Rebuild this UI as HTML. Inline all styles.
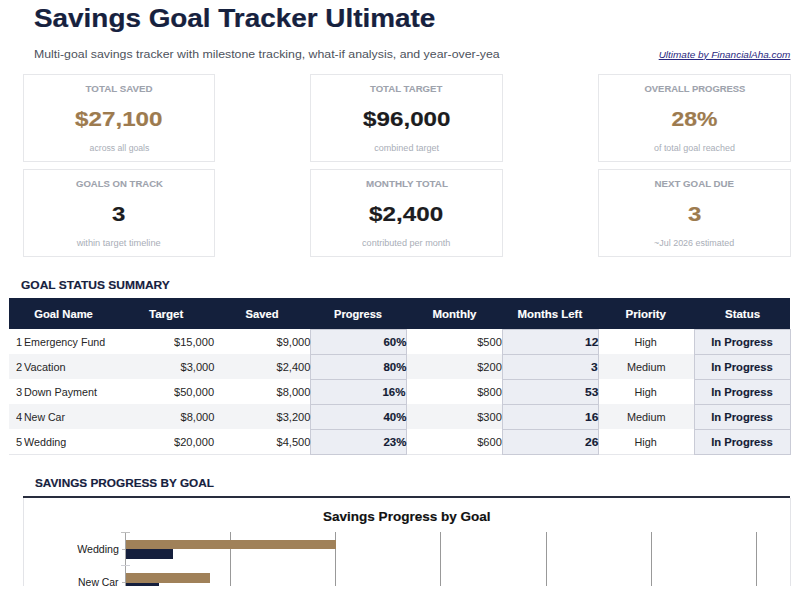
<!DOCTYPE html>
<html><head><meta charset="utf-8">
<style>
*{margin:0;padding:0;box-sizing:border-box}
html,body{width:800px;height:595px;overflow:hidden;background:#fff}
body{position:relative;font-family:"Liberation Sans",sans-serif;color:#222}
.t{position:absolute;white-space:nowrap;line-height:1}
.card{position:absolute;border:1px solid #e6e7ea;background:#fff}
</style></head><body>
<div class="card" style="left:23px;top:74px;width:192px;height:88px"></div>
<div class="card" style="left:310px;top:74px;width:193px;height:88px"></div>
<div class="card" style="left:598px;top:74px;width:193px;height:88px"></div>
<div class="card" style="left:23px;top:169px;width:192px;height:88px"></div>
<div class="card" style="left:310px;top:169px;width:193px;height:88px"></div>
<div class="card" style="left:598px;top:169px;width:193px;height:88px"></div>
<div style="position:absolute;left:9px;top:298px;width:781px;height:31px;background:#14203c"></div>
<div style="position:absolute;left:9px;top:329px;width:781px;height:25px;background:#fff"></div>
<div style="position:absolute;left:9px;top:354px;width:781px;height:25px;background:#f3f4f6"></div>
<div style="position:absolute;left:9px;top:379px;width:781px;height:25px;background:#fff"></div>
<div style="position:absolute;left:9px;top:404px;width:781px;height:25px;background:#f3f4f6"></div>
<div style="position:absolute;left:9px;top:429px;width:781px;height:25px;background:#fff"></div>
<div style="position:absolute;left:9px;top:454px;width:781px;height:1px;background:#e6e7eb"></div>
<div style="position:absolute;left:310px;top:329px;width:97px;height:26px;background:#eceef4;border:1px solid #c9cbd6"></div>
<div style="position:absolute;left:310px;top:354px;width:97px;height:26px;background:#eceef4;border:1px solid #c9cbd6"></div>
<div style="position:absolute;left:310px;top:379px;width:97px;height:26px;background:#eceef4;border:1px solid #c9cbd6"></div>
<div style="position:absolute;left:310px;top:404px;width:97px;height:26px;background:#eceef4;border:1px solid #c9cbd6"></div>
<div style="position:absolute;left:310px;top:429px;width:97px;height:26px;background:#eceef4;border:1px solid #c9cbd6"></div>
<div style="position:absolute;left:502px;top:329px;width:97px;height:26px;background:#eceef4;border:1px solid #c9cbd6"></div>
<div style="position:absolute;left:502px;top:354px;width:97px;height:26px;background:#eceef4;border:1px solid #c9cbd6"></div>
<div style="position:absolute;left:502px;top:379px;width:97px;height:26px;background:#eceef4;border:1px solid #c9cbd6"></div>
<div style="position:absolute;left:502px;top:404px;width:97px;height:26px;background:#eceef4;border:1px solid #c9cbd6"></div>
<div style="position:absolute;left:502px;top:429px;width:97px;height:26px;background:#eceef4;border:1px solid #c9cbd6"></div>
<div style="position:absolute;left:694px;top:329px;width:97px;height:26px;background:#eceef4;border:1px solid #c9cbd6"></div>
<div style="position:absolute;left:694px;top:354px;width:97px;height:26px;background:#eceef4;border:1px solid #c9cbd6"></div>
<div style="position:absolute;left:694px;top:379px;width:97px;height:26px;background:#eceef4;border:1px solid #c9cbd6"></div>
<div style="position:absolute;left:694px;top:404px;width:97px;height:26px;background:#eceef4;border:1px solid #c9cbd6"></div>
<div style="position:absolute;left:694px;top:429px;width:97px;height:26px;background:#eceef4;border:1px solid #c9cbd6"></div>
<div style="position:absolute;left:23px;top:496px;width:767px;height:2px;background:#282d3e"></div>
<div style="position:absolute;left:23px;top:498px;width:768px;height:88px;border-left:1px solid #e3e4e8;border-right:1px solid #e3e4e8"></div>
<div style="position:absolute;left:0;top:532px;width:800px;height:54px;overflow:hidden"><div style="position:absolute;left:230px;top:0;width:1px;height:54px;background:#999"></div><div style="position:absolute;left:335px;top:0;width:1px;height:54px;background:#999"></div><div style="position:absolute;left:440px;top:0;width:1px;height:54px;background:#999"></div><div style="position:absolute;left:546px;top:0;width:1px;height:54px;background:#999"></div><div style="position:absolute;left:651px;top:0;width:1px;height:54px;background:#999"></div><div style="position:absolute;left:756px;top:0;width:1px;height:54px;background:#999"></div><div style="position:absolute;left:125px;top:0;width:1px;height:54px;background:#a4a4a4"></div><div style="position:absolute;left:121px;top:0;width:9px;height:1px;background:#c0c0c0"></div><div style="position:absolute;left:121px;top:33px;width:9px;height:1px;background:#cfd0d6"></div><div style="position:absolute;left:122px;top:17px;width:3px;height:1px;background:#b8b8b8"></div><div style="position:absolute;left:122px;top:50px;width:3px;height:1px;background:#b8b8b8"></div><div style="position:absolute;left:126px;top:8px;width:210px;height:9px;background:#a08159"></div><div style="position:absolute;left:126px;top:17px;width:47px;height:10px;background:#151f3d"></div><div style="position:absolute;left:126px;top:41px;width:84px;height:10px;background:#a08159"></div><div style="position:absolute;left:126px;top:51px;width:33px;height:10px;background:#151f3d"></div></div>
<div class="t" style="left:34.20px;width:700px;text-align:left;top:6.39px;font-family:'Liberation Sans';font-size:25.07px;font-weight:bold;color:#16213e"><span style="display:inline-block;transform:scaleX(1.1123);transform-origin:left;;-webkit-text-stroke:0.225px currentColor">Savings Goal Tracker Ultimate</span></div>
<div style="position:absolute;left:0px;top:40px;width:500px;height:30px;overflow:hidden"><div style="position:absolute;left:0px;top:-40px;width:800px;height:595px"><div class="t" style="left:34.00px;width:700px;text-align:left;top:49.39px;font-family:'Liberation Sans';font-size:11.45px;color:#4d525c"><span style="display:inline-block;transform:scaleX(1.0772);transform-origin:left;">Multi-goal savings tracker with milestone tracking, what-if analysis, and year-over-year comparison</span></div></div></div>
<div class="t" style="left:190.00px;width:600px;text-align:right;top:50.62px;font-family:'Liberation Sans';font-size:9.33px;font-style:italic;color:#2a2880"><span style="display:inline-block;transform:scaleX(1.0675);transform-origin:right;text-decoration:underline">Ultimate by FinancialAha.com</span></div>
<div class="t" style="left:-181.00px;width:600px;text-align:center;top:85.45px;font-family:'Liberation Sans';font-size:9.33px;font-weight:bold;color:#9ea3ad"><span style="display:inline-block;transform:scaleX(1.0444);transform-origin:center;;-webkit-text-stroke:0.075px currentColor">TOTAL SAVED</span></div>
<div class="t" style="left:-180.80px;width:600px;text-align:center;top:109.40px;font-family:'Liberation Sans';font-size:20.35px;font-weight:bold;color:#9d7b4f"><span style="display:inline-block;transform:scaleX(1.1884);transform-origin:center;;-webkit-text-stroke:0.175px currentColor">$27,100</span></div>
<div class="t" style="left:-181.00px;width:600px;text-align:center;top:144.69px;font-family:'Liberation Sans';font-size:8.27px;color:#a9aeb7"><span style="display:inline-block;transform:scaleX(1.0496);transform-origin:center;">across all goals</span></div>
<div class="t" style="left:106.50px;width:600px;text-align:center;top:85.45px;font-family:'Liberation Sans';font-size:9.33px;font-weight:bold;color:#9ea3ad"><span style="display:inline-block;transform:scaleX(1.0298);transform-origin:center;;-webkit-text-stroke:0.075px currentColor">TOTAL TARGET</span></div>
<div class="t" style="left:106.70px;width:600px;text-align:center;top:109.40px;font-family:'Liberation Sans';font-size:20.35px;font-weight:bold;color:#1c1c20"><span style="display:inline-block;transform:scaleX(1.1884);transform-origin:center;;-webkit-text-stroke:0.175px currentColor">$96,000</span></div>
<div class="t" style="left:106.50px;width:600px;text-align:center;top:144.69px;font-family:'Liberation Sans';font-size:8.27px;color:#a9aeb7"><span style="display:inline-block;transform:scaleX(1.0904);transform-origin:center;">combined target</span></div>
<div class="t" style="left:394.50px;width:600px;text-align:center;top:85.45px;font-family:'Liberation Sans';font-size:9.33px;font-weight:bold;color:#9ea3ad"><span style="display:inline-block;transform:scaleX(1.0103);transform-origin:center;;-webkit-text-stroke:0.075px currentColor">OVERALL PROGRESS</span></div>
<div class="t" style="left:394.50px;width:600px;text-align:center;top:109.40px;font-family:'Liberation Sans';font-size:20.35px;font-weight:bold;color:#9d7b4f"><span style="display:inline-block;transform:scaleX(1.1282);transform-origin:center;;-webkit-text-stroke:0.175px currentColor">28%</span></div>
<div class="t" style="left:394.50px;width:600px;text-align:center;top:144.69px;font-family:'Liberation Sans';font-size:8.27px;color:#a9aeb7"><span style="display:inline-block;transform:scaleX(1.0818);transform-origin:center;">of total goal reached</span></div>
<div class="t" style="left:-181.00px;width:600px;text-align:center;top:180.45px;font-family:'Liberation Sans';font-size:9.33px;font-weight:bold;color:#9ea3ad"><span style="display:inline-block;transform:scaleX(1.0241);transform-origin:center;;-webkit-text-stroke:0.075px currentColor">GOALS ON TRACK</span></div>
<div class="t" style="left:-181.00px;width:600px;text-align:center;top:204.40px;font-family:'Liberation Sans';font-size:20.35px;font-weight:bold;color:#1c1c20"><span style="display:inline-block;transform:scaleX(1.1793);transform-origin:center;;-webkit-text-stroke:0.175px currentColor">3</span></div>
<div class="t" style="left:-181.00px;width:600px;text-align:center;top:239.69px;font-family:'Liberation Sans';font-size:8.27px;color:#a9aeb7"><span style="display:inline-block;transform:scaleX(1.1149);transform-origin:center;">within target timeline</span></div>
<div class="t" style="left:106.50px;width:600px;text-align:center;top:180.45px;font-family:'Liberation Sans';font-size:9.33px;font-weight:bold;color:#9ea3ad"><span style="display:inline-block;transform:scaleX(1.0503);transform-origin:center;;-webkit-text-stroke:0.075px currentColor">MONTHLY TOTAL</span></div>
<div class="t" style="left:106.50px;width:600px;text-align:center;top:204.40px;font-family:'Liberation Sans';font-size:20.35px;font-weight:bold;color:#1c1c20"><span style="display:inline-block;transform:scaleX(1.1898);transform-origin:center;;-webkit-text-stroke:0.175px currentColor">$2,400</span></div>
<div class="t" style="left:106.50px;width:600px;text-align:center;top:239.69px;font-family:'Liberation Sans';font-size:8.27px;color:#a9aeb7"><span style="display:inline-block;transform:scaleX(1.0985);transform-origin:center;">contributed per month</span></div>
<div class="t" style="left:394.70px;width:600px;text-align:center;top:180.45px;font-family:'Liberation Sans';font-size:9.33px;font-weight:bold;color:#9ea3ad"><span style="display:inline-block;transform:scaleX(1.0402);transform-origin:center;;-webkit-text-stroke:0.075px currentColor">NEXT GOAL DUE</span></div>
<div class="t" style="left:394.30px;width:600px;text-align:center;top:204.40px;font-family:'Liberation Sans';font-size:20.35px;font-weight:bold;color:#9d7b4f"><span style="display:inline-block;transform:scaleX(1.1793);transform-origin:center;;-webkit-text-stroke:0.175px currentColor">3</span></div>
<div class="t" style="left:394.50px;width:600px;text-align:center;top:239.69px;font-family:'Liberation Sans';font-size:8.27px;color:#a9aeb7"><span style="display:inline-block;transform:scaleX(1.0779);transform-origin:center;">~Jul 2026 estimated</span></div>
<div class="t" style="left:21.00px;width:700px;text-align:left;top:280.28px;font-family:'Liberation Sans';font-size:11.5px;font-weight:bold;color:#16213e"><span style="display:inline-block;transform:scaleX(1.0429);transform-origin:left;;-webkit-text-stroke:0.15px currentColor">GOAL STATUS SUMMARY</span></div>
<div class="t" style="left:34.50px;width:700px;text-align:left;top:478.48px;font-family:'Liberation Sans';font-size:11.5px;font-weight:bold;color:#16213e"><span style="display:inline-block;transform:scaleX(1.0246);transform-origin:left;;-webkit-text-stroke:0.15px currentColor">SAVINGS PROGRESS BY GOAL</span></div>
<div class="t" style="left:-236.50px;width:600px;text-align:center;top:309.90px;font-family:'Liberation Sans';font-size:10.18px;font-weight:bold;color:#fff"><span style="display:inline-block;transform:scaleX(1.1023);transform-origin:center;;-webkit-text-stroke:0.125px currentColor">Goal Name</span></div>
<div class="t" style="left:-134.20px;width:600px;text-align:center;top:309.90px;font-family:'Liberation Sans';font-size:10.18px;font-weight:bold;color:#fff"><span style="display:inline-block;transform:scaleX(1.1365);transform-origin:center;;-webkit-text-stroke:0.125px currentColor">Target</span></div>
<div class="t" style="left:-37.80px;width:600px;text-align:center;top:309.90px;font-family:'Liberation Sans';font-size:10.18px;font-weight:bold;color:#fff"><span style="display:inline-block;transform:scaleX(1.1011);transform-origin:center;;-webkit-text-stroke:0.125px currentColor">Saved</span></div>
<div class="t" style="left:58.00px;width:600px;text-align:center;top:309.90px;font-family:'Liberation Sans';font-size:10.18px;font-weight:bold;color:#fff"><span style="display:inline-block;transform:scaleX(1.0857);transform-origin:center;;-webkit-text-stroke:0.125px currentColor">Progress</span></div>
<div class="t" style="left:154.00px;width:600px;text-align:center;top:309.90px;font-family:'Liberation Sans';font-size:10.18px;font-weight:bold;color:#fff"><span style="display:inline-block;transform:scaleX(1.1271);transform-origin:center;;-webkit-text-stroke:0.125px currentColor">Monthly</span></div>
<div class="t" style="left:250.20px;width:600px;text-align:center;top:309.90px;font-family:'Liberation Sans';font-size:10.18px;font-weight:bold;color:#fff"><span style="display:inline-block;transform:scaleX(1.1247);transform-origin:center;;-webkit-text-stroke:0.125px currentColor">Months Left</span></div>
<div class="t" style="left:346.20px;width:600px;text-align:center;top:309.90px;font-family:'Liberation Sans';font-size:10.18px;font-weight:bold;color:#fff"><span style="display:inline-block;transform:scaleX(1.1373);transform-origin:center;;-webkit-text-stroke:0.125px currentColor">Priority</span></div>
<div class="t" style="left:442.20px;width:600px;text-align:center;top:309.90px;font-family:'Liberation Sans';font-size:10.18px;font-weight:bold;color:#fff"><span style="display:inline-block;transform:scaleX(1.1291);transform-origin:center;;-webkit-text-stroke:0.125px currentColor">Status</span></div>
<div class="t" style="left:16.20px;width:700px;text-align:left;top:337.71px;font-family:'Liberation Sans';font-size:10.28px;color:#262626"><span style="display:inline-block;transform:scaleX(1.0792);transform-origin:left;">1</span></div>
<div class="t" style="left:24.00px;width:700px;text-align:left;top:337.71px;font-family:'Liberation Sans';font-size:10.28px;color:#262626"><span style="display:inline-block;transform:scaleX(1.0388);transform-origin:left;">Emergency Fund</span></div>
<div class="t" style="left:-386.00px;width:600px;text-align:right;top:337.71px;font-family:'Liberation Sans';font-size:10.28px;color:#262626"><span style="display:inline-block;transform:scaleX(1.0796);transform-origin:right;">$15,000</span></div>
<div class="t" style="left:-290.00px;width:600px;text-align:right;top:337.71px;font-family:'Liberation Sans';font-size:10.28px;color:#262626"><span style="display:inline-block;transform:scaleX(1.0796);transform-origin:right;">$9,000</span></div>
<div class="t" style="left:-194.00px;width:600px;text-align:right;top:337.80px;font-family:'Liberation Sans';font-size:10.18px;font-weight:bold;color:#141c36"><span style="display:inline-block;transform:scaleX(1.1282);transform-origin:right;;-webkit-text-stroke:0.125px currentColor">60%</span></div>
<div class="t" style="left:-98.00px;width:600px;text-align:right;top:337.71px;font-family:'Liberation Sans';font-size:10.28px;color:#262626"><span style="display:inline-block;transform:scaleX(1.0793);transform-origin:right;">$500</span></div>
<div class="t" style="left:-2.00px;width:600px;text-align:right;top:337.80px;font-family:'Liberation Sans';font-size:10.18px;font-weight:bold;color:#141c36"><span style="display:inline-block;transform:scaleX(1.1793);transform-origin:right;;-webkit-text-stroke:0.125px currentColor">12</span></div>
<div class="t" style="left:346.00px;width:600px;text-align:center;top:337.71px;font-family:'Liberation Sans';font-size:10.28px;color:#262626"><span style="display:inline-block;transform:scaleX(1.0540);transform-origin:center;">High</span></div>
<div class="t" style="left:442.00px;width:600px;text-align:center;top:337.80px;font-family:'Liberation Sans';font-size:10.18px;font-weight:bold;color:#141c36"><span style="display:inline-block;transform:scaleX(1.1011);transform-origin:center;;-webkit-text-stroke:0.125px currentColor">In Progress</span></div>
<div class="t" style="left:16.00px;width:700px;text-align:left;top:362.71px;font-family:'Liberation Sans';font-size:10.28px;color:#262626"><span style="display:inline-block;transform:scaleX(1.0792);transform-origin:left;">2</span></div>
<div class="t" style="left:24.00px;width:700px;text-align:left;top:362.71px;font-family:'Liberation Sans';font-size:10.28px;color:#262626"><span style="display:inline-block;transform:scaleX(1.0626);transform-origin:left;">Vacation</span></div>
<div class="t" style="left:-386.00px;width:600px;text-align:right;top:362.71px;font-family:'Liberation Sans';font-size:10.28px;color:#262626"><span style="display:inline-block;transform:scaleX(1.0796);transform-origin:right;">$3,000</span></div>
<div class="t" style="left:-290.00px;width:600px;text-align:right;top:362.71px;font-family:'Liberation Sans';font-size:10.28px;color:#262626"><span style="display:inline-block;transform:scaleX(1.0796);transform-origin:right;">$2,400</span></div>
<div class="t" style="left:-194.00px;width:600px;text-align:right;top:362.80px;font-family:'Liberation Sans';font-size:10.18px;font-weight:bold;color:#141c36"><span style="display:inline-block;transform:scaleX(1.1282);transform-origin:right;;-webkit-text-stroke:0.125px currentColor">80%</span></div>
<div class="t" style="left:-98.00px;width:600px;text-align:right;top:362.71px;font-family:'Liberation Sans';font-size:10.28px;color:#262626"><span style="display:inline-block;transform:scaleX(1.0793);transform-origin:right;">$200</span></div>
<div class="t" style="left:-2.00px;width:600px;text-align:right;top:362.80px;font-family:'Liberation Sans';font-size:10.18px;font-weight:bold;color:#141c36"><span style="display:inline-block;transform:scaleX(1.1791);transform-origin:right;;-webkit-text-stroke:0.125px currentColor">3</span></div>
<div class="t" style="left:346.00px;width:600px;text-align:center;top:362.71px;font-family:'Liberation Sans';font-size:10.28px;color:#262626"><span style="display:inline-block;transform:scaleX(1.0612);transform-origin:center;">Medium</span></div>
<div class="t" style="left:442.00px;width:600px;text-align:center;top:362.80px;font-family:'Liberation Sans';font-size:10.18px;font-weight:bold;color:#141c36"><span style="display:inline-block;transform:scaleX(1.1011);transform-origin:center;;-webkit-text-stroke:0.125px currentColor">In Progress</span></div>
<div class="t" style="left:16.00px;width:700px;text-align:left;top:387.71px;font-family:'Liberation Sans';font-size:10.28px;color:#262626"><span style="display:inline-block;transform:scaleX(1.0792);transform-origin:left;">3</span></div>
<div class="t" style="left:23.80px;width:700px;text-align:left;top:387.71px;font-family:'Liberation Sans';font-size:10.28px;color:#262626"><span style="display:inline-block;transform:scaleX(1.0480);transform-origin:left;">Down Payment</span></div>
<div class="t" style="left:-386.00px;width:600px;text-align:right;top:387.71px;font-family:'Liberation Sans';font-size:10.28px;color:#262626"><span style="display:inline-block;transform:scaleX(1.0796);transform-origin:right;">$50,000</span></div>
<div class="t" style="left:-290.00px;width:600px;text-align:right;top:387.71px;font-family:'Liberation Sans';font-size:10.28px;color:#262626"><span style="display:inline-block;transform:scaleX(1.0796);transform-origin:right;">$8,000</span></div>
<div class="t" style="left:-194.20px;width:600px;text-align:right;top:387.80px;font-family:'Liberation Sans';font-size:10.18px;font-weight:bold;color:#141c36"><span style="display:inline-block;transform:scaleX(1.1282);transform-origin:right;;-webkit-text-stroke:0.125px currentColor">16%</span></div>
<div class="t" style="left:-98.00px;width:600px;text-align:right;top:387.71px;font-family:'Liberation Sans';font-size:10.28px;color:#262626"><span style="display:inline-block;transform:scaleX(1.0793);transform-origin:right;">$800</span></div>
<div class="t" style="left:-2.00px;width:600px;text-align:right;top:387.80px;font-family:'Liberation Sans';font-size:10.18px;font-weight:bold;color:#141c36"><span style="display:inline-block;transform:scaleX(1.1793);transform-origin:right;;-webkit-text-stroke:0.125px currentColor">53</span></div>
<div class="t" style="left:346.00px;width:600px;text-align:center;top:387.71px;font-family:'Liberation Sans';font-size:10.28px;color:#262626"><span style="display:inline-block;transform:scaleX(1.0540);transform-origin:center;">High</span></div>
<div class="t" style="left:442.00px;width:600px;text-align:center;top:387.80px;font-family:'Liberation Sans';font-size:10.18px;font-weight:bold;color:#141c36"><span style="display:inline-block;transform:scaleX(1.1011);transform-origin:center;;-webkit-text-stroke:0.125px currentColor">In Progress</span></div>
<div class="t" style="left:16.00px;width:700px;text-align:left;top:412.71px;font-family:'Liberation Sans';font-size:10.28px;color:#262626"><span style="display:inline-block;transform:scaleX(1.0792);transform-origin:left;">4</span></div>
<div class="t" style="left:24.00px;width:700px;text-align:left;top:412.71px;font-family:'Liberation Sans';font-size:10.28px;color:#262626"><span style="display:inline-block;transform:scaleX(1.0243);transform-origin:left;">New Car</span></div>
<div class="t" style="left:-386.00px;width:600px;text-align:right;top:412.71px;font-family:'Liberation Sans';font-size:10.28px;color:#262626"><span style="display:inline-block;transform:scaleX(1.0796);transform-origin:right;">$8,000</span></div>
<div class="t" style="left:-290.00px;width:600px;text-align:right;top:412.71px;font-family:'Liberation Sans';font-size:10.28px;color:#262626"><span style="display:inline-block;transform:scaleX(1.0796);transform-origin:right;">$3,200</span></div>
<div class="t" style="left:-194.00px;width:600px;text-align:right;top:412.80px;font-family:'Liberation Sans';font-size:10.18px;font-weight:bold;color:#141c36"><span style="display:inline-block;transform:scaleX(1.1282);transform-origin:right;;-webkit-text-stroke:0.125px currentColor">40%</span></div>
<div class="t" style="left:-98.00px;width:600px;text-align:right;top:412.71px;font-family:'Liberation Sans';font-size:10.28px;color:#262626"><span style="display:inline-block;transform:scaleX(1.0793);transform-origin:right;">$300</span></div>
<div class="t" style="left:-2.00px;width:600px;text-align:right;top:412.80px;font-family:'Liberation Sans';font-size:10.18px;font-weight:bold;color:#141c36"><span style="display:inline-block;transform:scaleX(1.1793);transform-origin:right;;-webkit-text-stroke:0.125px currentColor">16</span></div>
<div class="t" style="left:346.00px;width:600px;text-align:center;top:412.71px;font-family:'Liberation Sans';font-size:10.28px;color:#262626"><span style="display:inline-block;transform:scaleX(1.0612);transform-origin:center;">Medium</span></div>
<div class="t" style="left:442.00px;width:600px;text-align:center;top:412.80px;font-family:'Liberation Sans';font-size:10.18px;font-weight:bold;color:#141c36"><span style="display:inline-block;transform:scaleX(1.1011);transform-origin:center;;-webkit-text-stroke:0.125px currentColor">In Progress</span></div>
<div class="t" style="left:16.00px;width:700px;text-align:left;top:437.71px;font-family:'Liberation Sans';font-size:10.28px;color:#262626"><span style="display:inline-block;transform:scaleX(1.0792);transform-origin:left;">5</span></div>
<div class="t" style="left:24.00px;width:700px;text-align:left;top:437.71px;font-family:'Liberation Sans';font-size:10.28px;color:#262626"><span style="display:inline-block;transform:scaleX(1.0473);transform-origin:left;">Wedding</span></div>
<div class="t" style="left:-386.00px;width:600px;text-align:right;top:437.71px;font-family:'Liberation Sans';font-size:10.28px;color:#262626"><span style="display:inline-block;transform:scaleX(1.0796);transform-origin:right;">$20,000</span></div>
<div class="t" style="left:-290.00px;width:600px;text-align:right;top:437.71px;font-family:'Liberation Sans';font-size:10.28px;color:#262626"><span style="display:inline-block;transform:scaleX(1.0796);transform-origin:right;">$4,500</span></div>
<div class="t" style="left:-194.00px;width:600px;text-align:right;top:437.80px;font-family:'Liberation Sans';font-size:10.18px;font-weight:bold;color:#141c36"><span style="display:inline-block;transform:scaleX(1.1282);transform-origin:right;;-webkit-text-stroke:0.125px currentColor">23%</span></div>
<div class="t" style="left:-98.00px;width:600px;text-align:right;top:437.71px;font-family:'Liberation Sans';font-size:10.28px;color:#262626"><span style="display:inline-block;transform:scaleX(1.0793);transform-origin:right;">$600</span></div>
<div class="t" style="left:-2.00px;width:600px;text-align:right;top:437.80px;font-family:'Liberation Sans';font-size:10.18px;font-weight:bold;color:#141c36"><span style="display:inline-block;transform:scaleX(1.1793);transform-origin:right;;-webkit-text-stroke:0.125px currentColor">26</span></div>
<div class="t" style="left:346.00px;width:600px;text-align:center;top:437.71px;font-family:'Liberation Sans';font-size:10.28px;color:#262626"><span style="display:inline-block;transform:scaleX(1.0540);transform-origin:center;">High</span></div>
<div class="t" style="left:442.00px;width:600px;text-align:center;top:437.80px;font-family:'Liberation Sans';font-size:10.18px;font-weight:bold;color:#141c36"><span style="display:inline-block;transform:scaleX(1.1011);transform-origin:center;;-webkit-text-stroke:0.125px currentColor">In Progress</span></div>
<div class="t" style="left:322.50px;width:700px;text-align:left;top:511.22px;font-family:'Liberation Sans';font-size:12.4px;font-weight:bold;color:#111"><span style="display:inline-block;transform:scaleX(1.0914);transform-origin:left;;-webkit-text-stroke:0.15px currentColor">Savings Progress by Goal</span></div>
<div style="position:absolute;left:0px;top:498px;width:800px;height:88px;overflow:hidden"><div style="position:absolute;left:0px;top:-498px;width:800px;height:595px"><div class="t" style="left:-481.40px;width:600px;text-align:right;top:544.70px;font-family:'Liberation Sans';font-size:10.18px;color:#1a1a1a"><span style="display:inline-block;transform:scaleX(1.0469);transform-origin:right;">Wedding</span></div></div></div>
<div style="position:absolute;left:0px;top:498px;width:800px;height:88px;overflow:hidden"><div style="position:absolute;left:0px;top:-498px;width:800px;height:595px"><div class="t" style="left:-481.40px;width:600px;text-align:right;top:577.50px;font-family:'Liberation Sans';font-size:10.18px;color:#1a1a1a"><span style="display:inline-block;transform:scaleX(1.0233);transform-origin:right;">New Car</span></div></div></div>
</body></html>
